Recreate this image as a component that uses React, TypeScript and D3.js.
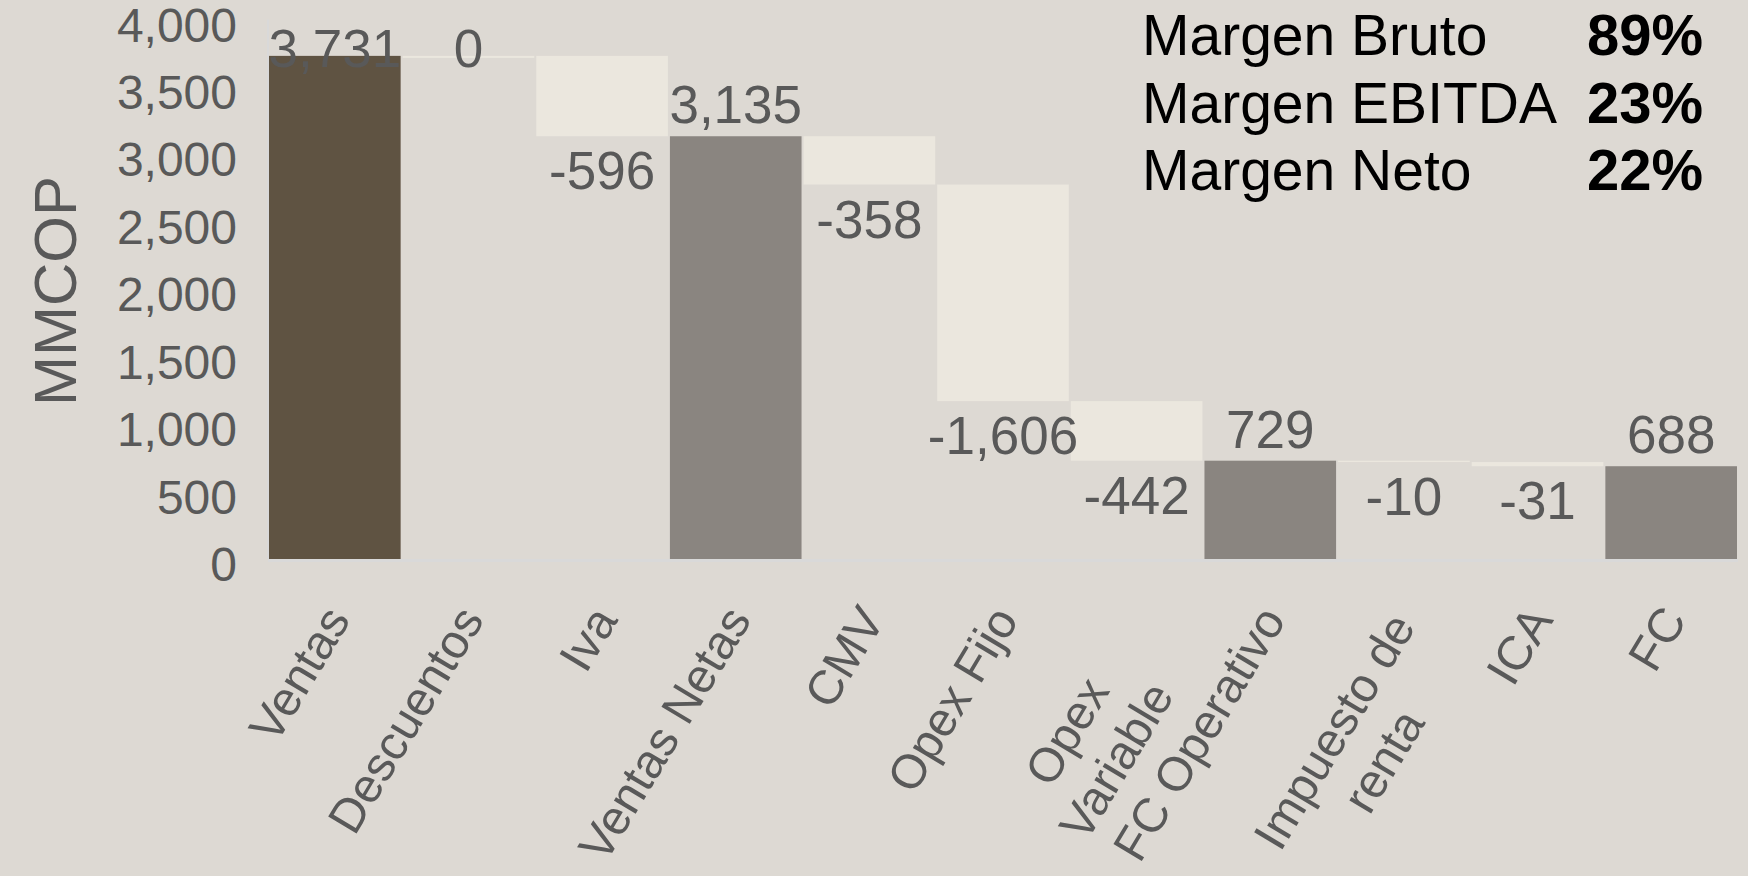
import React from "react";
import * as d3 from "d3";

const categories = [
  "Ventas",
  "Descuentos",
  "Iva",
  "Ventas Netas",
  "CMV",
  "Opex Fijo",
  "Opex\nVariable",
  "FC Operativo",
  "Impuesto de\nrenta",
  "ICA",
  "FC",
];
const values = [3731, 0, -596, 3135, -358, -1606, -442, 729, -10, -31, 688];
const kinds = ["start", "delta", "delta", "total", "delta", "delta", "delta", "total", "delta", "delta", "total"];
const yTicks = [0, 500, 1000, 1500, 2000, 2500, 3000, 3500, 4000];
const marginLabels = ["Margen Bruto", "Margen EBITDA", "Margen Neto"];
const marginValues = ["89%", "23%", "22%"];

const W = 1748;
const H = 876;
const BG = "#ddd9d3";
const TXT = "#595959";
const COLORS: Record<string, string> = { start: "#5f5342", total: "#8a8580", delta: "#ebe7de" };
const FONT = "'Liberation Sans', Arial, Helvetica, sans-serif";

const fmt = d3.formatLocale({ decimal: ".", thousands: ",", grouping: [3], currency: ["$", ""], minus: "-" }).format(",");

export default function App() {
  const x = d3.scaleBand<string>().domain(categories).range([268, 1738]).paddingInner(0.015).paddingOuter(0.0075);
  const y = d3.scaleLinear().domain([0, 4000]).range([559, 19.6]);

  let running = 0;
  const bars = categories.map((c, i) => {
    const v = values[i];
    let lo: number, hi: number;
    if (kinds[i] === "delta") {
      lo = Math.min(running, running + v);
      hi = Math.max(running, running + v);
      running += v;
    } else {
      lo = 0;
      hi = v;
      running = v;
    }
    return { c, v, lo, hi, kind: kinds[i] };
  });

  const angle = -59;

  return (
    <svg width={W} height={H} style={{ position: "absolute", left: 0, top: 0 }} fontFamily={FONT}>
      <rect width={W} height={H} fill={BG} />
      <line x1={x.range()[0]} x2={x.range()[0]} y1={y(4000)} y2={y(0)} stroke="#d9d9d9" strokeWidth={2} />
      {bars.map((b) => {
        const top = y(b.hi);
        const bot = y(b.lo);
        const h = b.v === 0 ? 2 : bot - top;
        return <rect key={b.c} x={x(b.c)} y={top} width={x.bandwidth()} height={h} fill={COLORS[b.kind]} />;
      })}
      <line x1={x.range()[0]} x2={x.range()[1]} y1={y(0) + 1.5} y2={y(0) + 1.5} stroke="#d9d9d9" strokeWidth={3} />
      {yTicks.map((t) => (
        <text key={t} x={237} y={y(t) + 22} textAnchor="end" fontSize={48} fill={TXT}>
          {fmt(t)}
        </text>
      ))}
      <text transform={`translate(76,291) rotate(-90)`} textAnchor="middle" fontSize={60} fill={TXT}>
        MMCOP
      </text>
      {bars.map((b) => {
        const cx = (x(b.c) as number) + x.bandwidth() / 2;
        const neg = b.kind === "delta" && b.v < 0;
        const ly = neg ? y(b.lo) + 53 : Math.max(y(b.hi) - 13, 67);
        return (
          <text key={"l" + b.c} x={cx} y={ly} textAnchor="middle" fontSize={53} fill={TXT}>
            {fmt(b.v)}
          </text>
        );
      })}
      {categories.map((c) => {
        const cx = (x(c) as number) + x.bandwidth() / 2;
        const lines = c.split("\n");
        const multi = lines.length > 1;
        return (
          <g key={"x" + c} transform={`translate(${cx - 13},602) rotate(${angle})`}>
            {lines.map((ln, j) => (
              <text
                key={j}
                x={multi ? -140 : 0}
                y={34.5 + j * 57.6}
                textAnchor={multi ? "middle" : "end"}
                fontSize={48}
                fill={TXT}
              >
                {ln}
              </text>
            ))}
          </g>
        );
      })}
      {marginLabels.map((m, i) => (
        <g key={m}>
          <text x={1142} y={55 + i * 67.5} fontSize={57} fill="#000">
            {m}
          </text>
          <text x={1703} y={55 + i * 67.5} fontSize={58} fontWeight="bold" textAnchor="end" fill="#000">
            {marginValues[i]}
          </text>
        </g>
      ))}
    </svg>
  );
}
